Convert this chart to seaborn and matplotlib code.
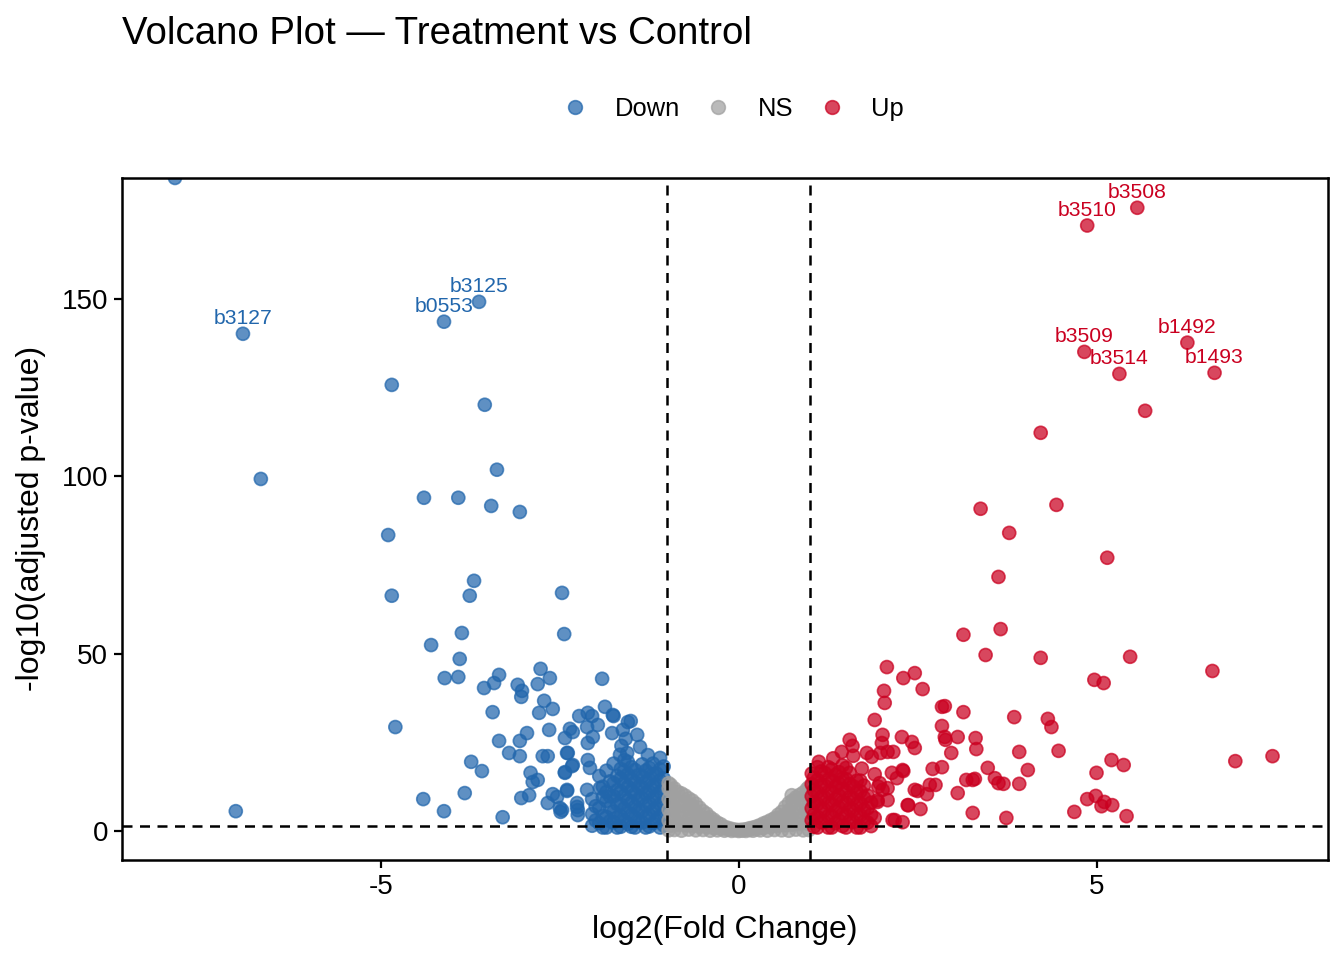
import math
import pandas as pd
import seaborn as sns
import matplotlib.pyplot as plt

sns.set_theme(style="white")
plt.rcParams["font.family"] = ["Liberation Sans", "DejaVu Sans"]
plt.rcParams["text.color"] = "black"
plt.rcParams["axes.labelcolor"] = "black"
plt.rcParams["xtick.color"] = "black"
plt.rcParams["ytick.color"] = "black"

# Down-regulated genes (log2FC, -log10 padj)
down_x = [-7.88, -6.93, -6.68, -7.03, -4.12, -3.63, -4.85, -3.55, -3.38, -4.40,
          -3.92, -3.46, -3.06, -4.90, -3.70, -3.76, -4.85, -2.47, -3.87, -2.44,
          -4.30, -3.90, -4.11, -3.92, -4.80, -3.56, -3.42, -3.35, -3.09, -3.03,
          -3.04, -2.77, -2.64, -2.81, -1.91, -3.44, -2.72, -2.60, -2.79, -3.35,
          -3.06, -2.96, -3.21, -3.06, -3.74, -3.59, -4.41, -4.12, -3.83, -3.30,
          -3.04, -2.93, -2.91, -2.88, -2.81, -2.65, -2.74, -2.67, -2.60, -2.54,
          -2.67, -2.50, -2.49, -2.40, -2.43, -2.33, -2.39, -2.36, -2.23, -2.11,
          -2.05, -1.87, -1.75, -1.51, -2.26, -2.25,
          -1.76, -1.55, -2.43, -2.32, -2.12, -1.97, -1.77, -1.42, -2.40, -2.11,
          -2.04, -1.38, -1.27, -1.10, -2.32, -2.43, -2.11, -2.08,
          -1.62, -1.58, -1.64, -1.56, -1.60, -1.66,
          -2.40, -2.26, -2.25, -2.47, -2.12, -1.94,
          -2.05, -2.05, -2.05, -1.95, -1.95, -1.95, -1.85, -1.85, -1.85, -1.85,
          -1.85, -1.75, -1.75, -1.75, -1.75, -1.75, -1.65, -1.65, -1.65, -1.65,
          -1.65, -1.65, -1.55, -1.55, -1.55, -1.55, -1.55, -1.55, -1.45, -1.45,
          -1.45, -1.45, -1.45, -1.45, -1.35, -1.35, -1.35, -1.35, -1.35, -1.35,
          -1.25, -1.25, -1.25, -1.25, -1.25, -1.25, -1.15, -1.15, -1.15, -1.15,
          -1.15, -1.05, -1.05, -1.05, -1.05, -1.05, -1.05,
          -2.0, -2.0, -1.9, -1.9, -1.9, -1.9, -1.8, -1.8, -1.8, -1.8,
          -1.7, -1.7, -1.7, -1.7, -1.7, -1.6, -1.6, -1.6, -1.6, -1.6,
          -1.5, -1.5, -1.5, -1.5, -1.5, -1.5, -1.4, -1.4, -1.4, -1.4,
          -1.4, -1.3, -1.3, -1.3, -1.3, -1.3, -1.3, -1.2, -1.2, -1.2,
          -1.2, -1.2, -1.2, -1.1, -1.1, -1.1, -1.1, -1.1, -1.1]
down_y = [184.0, 140.1, 99.2, 5.6, 143.5, 149.1, 125.7, 120.1, 101.8, 93.9,
          93.9, 91.6, 89.9, 83.4, 70.5, 66.3, 66.3, 67.1, 55.8, 55.5,
          52.4, 48.5, 43.1, 43.4, 29.3, 40.3, 41.7, 44.0, 41.2, 39.5,
          37.8, 45.7, 43.1, 41.4, 42.9, 33.5, 36.7, 34.4, 33.3, 25.4,
          25.4, 27.6, 22.0, 21.1, 19.5, 16.9, 9.0, 5.6, 10.7, 3.9,
          9.3, 10.1, 16.4, 13.8, 14.4, 28.5, 21.1, 21.1, 10.4, 9.6,
          7.9, 6.5, 5.4, 11.3, 16.4, 18.3, 22.0, 28.8, 32.4, 33.3,
          32.4, 35.0, 32.4, 31.0, 7.9, 5.9,
          32.7, 30.7, 26.2, 27.9, 29.3, 29.9, 27.6, 27.1, 22.0, 24.8,
          26.5, 23.7, 21.4, 20.6, 18.6, 16.6, 20.0, 17.8,
          28.5, 26.0, 24.0, 22.0, 20.0, 21.5,
          11.6, 6.8, 4.5, 5.9, 11.6, 12.1,
          1.5, 4.8, 9.0, 2.2, 6.5, 15.5, 1.0, 4.0, 8.5, 11.0,
          17.0, 2.5, 5.5, 9.8, 13.5, 19.0, 1.2, 4.2, 7.5, 11.2,
          14.8, 17.5, 2.0, 5.2, 8.8, 12.5, 16.0, 19.5, 1.0, 3.8,
          7.0, 10.5, 13.8, 17.2, 2.4, 5.6, 9.2, 12.2, 15.4, 18.8,
          1.3, 4.5, 7.8, 11.0, 14.5, 17.8, 2.8, 6.2, 9.5, 12.8,
          16.2, 1.6, 4.8, 8.0, 11.6, 14.8, 18.2,
          3.0, 7.0, 1.0, 4.2, 9.5, 12.5, 2.8, 6.6, 9.8, 14.0,
          1.0, 3.8, 7.6, 11.5, 15.5, 2.9, 6.4, 10.0, 13.5, 16.8,
          1.2, 4.6, 8.0, 11.4, 14.6, 18.0, 2.6, 5.9, 9.0, 12.4,
          15.8, 1.0, 4.0, 7.4, 10.6, 13.8, 17.0, 2.2, 5.8, 9.2,
          12.6, 16.0, 19.0, 1.0, 4.2, 7.6, 11.0, 14.2, 17.4]

# Not significant genes
ns_x = [-0.98, -0.98, -0.98, -0.98, -0.98, -0.98, -0.9, -0.9, -0.9, -0.9,
        -0.9, -0.8, -0.8, -0.8, -0.8, -0.7, -0.7, -0.7, -0.7, -0.6,
        -0.6, -0.6, -0.6, -0.5, -0.5, -0.5, -0.4, -0.4, -0.4, -0.3,
        -0.3, -0.3, -0.2, -0.2, -0.1, -0.1, 0.0, 0.0, 0.1, 0.1,
        0.2, 0.2, 0.3, 0.3, 0.4, 0.4, 0.4, 0.5, 0.5, 0.5,
        0.6, 0.6, 0.6, 0.7, 0.7, 0.7, 0.7, 0.8, 0.8, 0.8,
        0.8, 0.9, 0.9, 0.9, 0.9, 0.98, 0.98, 0.98, 0.98, 0.74,
        -0.95, -0.95, -0.95, -0.95, -0.95, -0.85, -0.85, -0.85, -0.85, -0.75,
        -0.75, -0.75, -0.75, -0.65, -0.65, -0.65, -0.65, -0.55, -0.55, -0.55,
        -0.45, -0.45, -0.45, -0.35, -0.35, -0.35, -0.25, -0.25, -0.15, -0.15,
        -0.05, -0.05, 0.05, 0.05, 0.15, 0.15, 0.25, 0.25, 0.35, 0.35,
        0.45, 0.45, 0.55, 0.55, 0.55, 0.65, 0.65, 0.65, 0.75, 0.75,
        0.75, 0.85, 0.85, 0.85, 0.85, 0.95, 0.95, 0.95, 0.95]
ns_y = [0.2, 3.0, 6.0, 9.0, 12.0, 13.5, 0.3, 3.2, 6.4, 9.5,
        12.0, 0.1, 3.5, 7.0, 10.6, 0.4, 3.3, 6.4, 9.2, 0.2,
        2.8, 5.4, 7.7, 0.3, 2.6, 5.6, 0.1, 2.1, 3.9, 0.2,
        1.4, 2.4, 0.1, 1.2, 0.05, 0.6, 0.02, 0.3, 0.04, 0.5,
        0.1, 1.0, 0.2, 1.7, 0.1, 1.4, 2.6, 0.3, 2.0, 3.6,
        0.2, 2.8, 5.4, 0.1, 3.0, 5.8, 7.9, 0.4, 3.4, 6.5,
        9.5, 0.2, 3.6, 7.2, 10.8, 0.3, 4.0, 8.0, 12.4, 10.1,
        1.5, 4.8, 8.0, 11.2, 13.0, 1.8, 5.0, 8.2, 11.0, 1.6,
        4.9, 8.2, 10.0, 1.4, 4.4, 7.2, 8.6, 1.2, 4.0, 6.6,
        1.1, 3.6, 4.9, 0.8, 2.6, 3.2, 0.6, 1.9, 0.4, 0.9,
        0.2, 0.4, 0.1, 0.4, 0.3, 0.8, 0.5, 1.3, 0.9, 2.2,
        1.2, 3.1, 1.5, 3.8, 4.6, 1.6, 4.5, 6.8, 1.8, 5.0,
        8.6, 2.0, 5.5, 9.0, 10.2, 2.1, 6.0, 9.8, 11.8]

# Up-regulated genes
up_x = [5.57, 4.87, 4.83, 5.32, 6.27, 6.65, 5.68, 4.22, 4.44, 3.38,
        3.78, 5.15, 3.63, 3.66, 3.14, 3.45, 4.22, 5.47, 6.62, 4.97,
        5.10, 2.07, 2.30, 2.46, 2.57, 2.03, 2.04, 1.90, 2.84, 2.88,
        3.14, 2.84, 2.88, 2.89, 3.06, 3.31, 3.32, 2.97, 3.85, 4.32,
        4.37, 3.92, 4.47, 4.04, 3.48, 3.18, 3.27, 3.30, 3.58, 3.63,
        3.70, 3.92, 3.06, 2.71, 2.84, 2.67, 2.75, 2.50, 2.63, 2.37,
        2.54, 3.27, 3.74, 4.69, 4.87, 4.99, 5.11, 5.07, 5.22, 5.42,
        5.21, 5.38, 5.00, 6.94, 7.46, 2.29, 2.15, 2.30, 2.28, 2.42,
        2.46, 2.16, 2.01, 2.00, 1.98, 1.55, 1.59, 1.44, 1.79, 2.21,
        2.08, 1.94, 1.90, 2.08, 1.86, 2.29, 2.14, 2.46, 1.97, 2.01,
        2.36, 1.94, 2.08, 2.18,
        1.12, 1.32, 1.60, 1.72, 1.90, 1.95,
        1.05, 1.05, 1.05, 1.05, 1.05, 1.15, 1.15, 1.15, 1.15, 1.15,
        1.25, 1.25, 1.25, 1.25, 1.25, 1.25, 1.35, 1.35, 1.35, 1.35,
        1.35, 1.45, 1.45, 1.45, 1.45, 1.45, 1.45, 1.55, 1.55, 1.55,
        1.55, 1.55, 1.65, 1.65, 1.65, 1.65, 1.65, 1.75, 1.75, 1.75,
        1.75, 1.85, 1.85, 1.85,
        1.02, 1.02, 1.02, 1.02, 1.02, 1.1, 1.1, 1.1, 1.1, 1.1,
        1.1, 1.2, 1.2, 1.2, 1.2, 1.2, 1.3, 1.3, 1.3, 1.3,
        1.3, 1.3, 1.4, 1.4, 1.4, 1.4, 1.4, 1.5, 1.5, 1.5,
        1.5, 1.5, 1.5, 1.6, 1.6, 1.6, 1.6, 1.7, 1.7, 1.7,
        1.7, 1.7, 1.8, 1.8, 1.8]
up_y = [175.6, 170.6, 135.0, 128.8, 137.6, 129.1, 118.4, 112.2, 91.9, 90.8,
        84.0, 77.0, 71.6, 56.9, 55.3, 49.6, 48.8, 49.1, 45.1, 42.6,
        41.7, 46.2, 43.1, 44.5, 40.0, 39.5, 36.1, 31.3, 35.0, 35.2,
        33.5, 29.6, 26.5, 25.7, 26.5, 26.2, 23.1, 22.0, 32.1, 31.6,
        29.3, 22.3, 22.6, 17.2, 17.8, 14.4, 14.4, 14.7, 14.9, 13.5,
        13.3, 13.3, 10.7, 17.5, 18.0, 13.0, 13.0, 11.3, 10.4, 7.3,
        6.2, 5.1, 3.7, 5.4, 9.0, 9.9, 8.2, 7.0, 7.3, 4.2,
        20.0, 18.6, 16.4, 19.7, 21.1, 2.5, 3.1, 16.9, 26.5, 25.1,
        23.4, 22.3, 27.1, 24.8, 22.0, 25.7, 24.0, 22.3, 22.0, 14.9,
        12.1, 8.2, 3.7, 22.3, 20.9, 17.2, 16.4, 11.6, 13.5, 11.6,
        7.3, 8.7, 8.7, 3.1,
        19.5, 20.5, 21.2, 17.6, 16.0, 12.5,
        1.2, 4.5, 8.0, 11.5, 15.0, 2.5, 6.0, 9.5, 13.0, 16.8,
        1.0, 4.2, 7.8, 11.0, 14.5, 18.0, 2.2, 5.6, 9.0, 12.5,
        15.8, 1.4, 4.8, 8.2, 11.8, 14.8, 18.5, 2.8, 6.2, 9.6,
        13.2, 16.4, 1.0, 4.4, 7.6, 11.0, 14.2, 2.6, 6.0, 9.4,
        12.8, 1.4, 4.6, 8.0,
        3.0, 6.4, 9.8, 13.2, 16.2, 1.0, 4.0, 7.6, 11.0, 14.4,
        18.0, 2.6, 6.0, 9.4, 12.8, 16.4, 1.0, 4.2, 7.6, 11.0,
        14.2, 17.4, 3.0, 6.6, 10.0, 13.4, 16.6, 1.0, 4.4, 7.8,
        11.2, 14.6, 17.8, 2.6, 6.0, 9.2, 12.6, 1.0, 4.4, 7.8,
        11.2, 14.2, 2.4, 6.4, 10.0]

# labelled genes
lab_genes = ["b3127", "b0553", "b3125", "b3508", "b3510", "b3509", "b3514", "b1492", "b1493"]
lab_x = [-6.93, -4.12, -3.63, 5.57, 4.87, 4.83, 5.32, 6.27, 6.65]
lab_y = [140.1, 143.5, 149.1, 175.6, 170.6, 135.0, 128.8, 137.6, 129.1]
lab_group = ["Down", "Down", "Down", "Up", "Up", "Up", "Up", "Up", "Up"]

fc_cut = 1
p_cut = 0.05

colores = {"Down": "#2166AC", "NS": "#A0A0A0", "Up": "#CA0020"}

df = pd.concat([
    pd.DataFrame({"log2FC": down_x, "nlp": down_y, "grupo": "Down"}),
    pd.DataFrame({"log2FC": ns_x, "nlp": ns_y, "grupo": "NS"}),
    pd.DataFrame({"log2FC": up_x, "nlp": up_y, "grupo": "Up"}),
], ignore_index=True)

fig = plt.figure(figsize=(6.72, 4.8), dpi=200)
ax = fig.add_axes([0.0908, 0.104, 0.897, 0.711])

sns.scatterplot(data=df, x="log2FC", y="nlp", hue="grupo",
                hue_order=["Down", "NS", "Up"], palette=colores,
                s=22, alpha=0.72, linewidth=0.6, edgecolor="face", ax=ax)

# umbrales
for xv in (-fc_cut, fc_cut):
    ax.axvline(xv, color="black", lw=0.9, ls=(0, (4, 3)), zorder=5)
ax.axhline(-math.log10(p_cut), color="black", lw=0.9, ls=(0, (4, 3)), zorder=5)

for g, x, y, grp in zip(lab_genes, lab_x, lab_y, lab_group):
    ax.annotate(g, (x, y), xytext=(0, 5.4), textcoords="offset points",
                ha="center", va="center", fontsize=7.6, color=colores[grp])

ax.set_xlim(-8.62, 8.23)
ax.set_ylim(-8.2, 184.1)
ax.set_xticks([-5, 0, 5])
ax.set_yticks([0, 50, 100, 150])
ax.set_xticklabels(["-5", "0", "5"])
ax.tick_params(axis="both", direction="out", length=3, width=0.8,
               color="black", labelsize=10, labelcolor="black", pad=2,
               bottom=True, left=True)
for sp in ax.spines.values():
    sp.set_visible(True)
    sp.set_color("black")
    sp.set_linewidth(0.9)
ax.set_xlabel("log2(Fold Change)", fontsize=11.5, labelpad=5.5)
ax.set_ylabel("-log10(adjusted p-value)", fontsize=11.5, labelpad=5.5)

sns.move_legend(ax, "center", bbox_to_anchor=(0.507, 1.10), ncol=3,
                title=None, frameon=False, fontsize=9.2,
                handlelength=1.0, handletextpad=1.05, columnspacing=1.0,
                markerscale=1.05)

fig.text(0.0908, 1 - 34 / 960, "Volcano Plot — Treatment vs Control",
         ha="left", va="center", fontsize=13.8)

fig.savefig("out.png", dpi=200)
